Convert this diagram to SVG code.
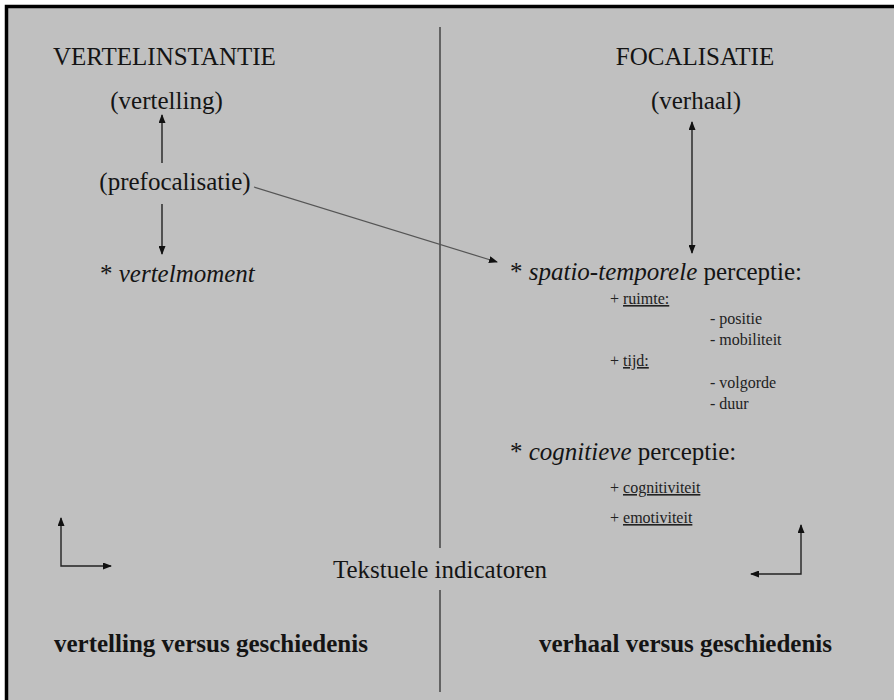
<svg xmlns="http://www.w3.org/2000/svg" width="894" height="700" viewBox="0 0 894 700">
<style>
text{font-family:"Liberation Serif","Times New Roman",serif;fill:#141414}
.big{font-size:25px}
.sm{font-size:16px;fill:#222}
.it{font-style:italic}
.b{font-weight:bold}
.u{text-decoration:underline}
.c{text-anchor:middle}
.arr{stroke:#222;stroke-width:1.4;fill:none}
.div{stroke:#444;stroke-width:1.5}
</style>
<defs>
<marker id="ah" markerUnits="userSpaceOnUse" markerWidth="9" markerHeight="7" refX="8" refY="3.5" orient="auto-start-reverse">
<path d="M0,0 L9,3.5 L0,7 z" fill="#111"/>
</marker>
</defs>
<rect x="0" y="0" width="894" height="700" fill="#ffffff"/>
<rect x="6.5" y="6.5" width="900" height="700" fill="#c0c0c0" stroke="#000" stroke-width="3.5"/>
<g id="divider">
<line class="div" x1="440" y1="27" x2="440" y2="548"/>
<line class="div" x1="440" y1="590" x2="440" y2="692"/>
</g>
<g id="vertelinstantie"><text class="big" x="53" y="65">VERTELINSTANTIE</text></g>
<g id="vertelling"><text class="big c" x="166.5" y="109">(vertelling)</text></g>
<g id="prefocalisatie"><text class="big c" x="175" y="190">(prefocalisatie)</text></g>
<g id="vertelmoment"><text class="big" x="100" y="282">* <tspan class="it">vertelmoment</tspan></text></g>
<g id="focalisatie"><text class="big c" x="695" y="65">FOCALISATIE</text></g>
<g id="verhaal"><text class="big c" x="696" y="109">(verhaal)</text></g>
<g id="spatio"><text class="big" x="510" y="280">* <tspan class="it">spatio-temporele</tspan> perceptie:</text>
<text class="sm" x="610" y="304">+ <tspan class="u">ruimte:</tspan></text>
<text class="sm" x="710" y="324">- positie</text>
<text class="sm" x="710" y="345">- mobiliteit</text>
<text class="sm" x="610" y="366">+ <tspan class="u">tijd:</tspan></text>
<text class="sm" x="710" y="388">- volgorde</text>
<text class="sm" x="710" y="409">- duur</text>
</g>
<g id="cognitieve"><text class="big" x="510" y="460">* <tspan class="it">cognitieve</tspan> perceptie:</text>
<text class="sm" x="610" y="493">+ <tspan class="u">cognitiviteit</tspan></text>
<text class="sm" x="610" y="523">+ <tspan class="u">emotiviteit</tspan></text>
</g>
<g id="tekstuele"><text class="big c" x="440" y="578">Tekstuele indicatoren</text></g>
<g id="vvg"><text class="big b" x="54" y="652">vertelling versus geschiedenis</text></g>
<g id="hvg"><text class="big b" x="539" y="652">verhaal versus geschiedenis</text></g>
<g id="connectors">
<line class="arr" x1="162" y1="163" x2="162" y2="115" marker-end="url(#ah)"/>
<line class="arr" x1="162" y1="204" x2="162" y2="254" marker-end="url(#ah)"/>
<line class="arr" x1="254" y1="187" x2="497" y2="262" marker-end="url(#ah)" style="stroke:#555;stroke-width:1.2"/>
<line class="arr" x1="692" y1="122" x2="692" y2="253" marker-start="url(#ah)" marker-end="url(#ah)"/>
<path class="arr" d="M61,518 L61,566 L111,566" marker-start="url(#ah)" marker-end="url(#ah)"/>
<path class="arr" d="M801,525 L801,574 L751,574" marker-start="url(#ah)" marker-end="url(#ah)"/>
</g>
</svg>
